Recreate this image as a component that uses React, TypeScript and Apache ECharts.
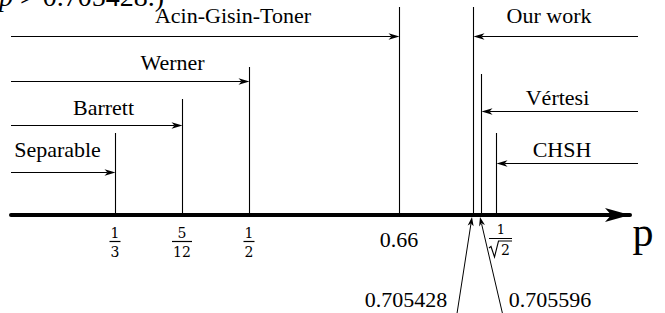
import React, { useEffect, useRef } from 'react';
import * as echarts from 'echarts';

// ---------- data ----------
const markLabels = ['1/3', '5/12', '1/2', '0.66', '0.705428', '0.705596', '1/√2'];
const markValues = [1 / 3, 5 / 12, 1 / 2, 0.66, 0.705428, 0.705596, 0.707107];
const boundNames = ['Separable', 'Barrett', 'Werner', 'Acin-Gisin-Toner', 'Our work', 'Vértesi', 'CHSH'];
const boundMarkIndex = [0, 1, 2, 3, 4, 5, 6];
const boundDirection = ['right', 'right', 'right', 'right', 'left', 'left', 'left'];
const tickLabelMarks = [0, 1, 2, 3, 6];
const pointerMarkIndex = [4, 5];
const axisName = 'p';
const headerFragment = 'p > 0.705428.)';

// ---------- schematic layout (axis is not to scale) ----------
const markAxisPos = [115, 182, 249, 399, 473, 481, 496];
const markTop = [82, 116, 148, 208, 208, 141, 82];
const boundRowY = [43.5, 90, 134, 179, 179, 104, 52];
const boundLabelX = [57.5, 103.5, 172.5, 233, 549, 557.5, 562];
const boundLabelGap = [22, 18, 19, 20.5, 20.5, 14, 14];
const LEFT_START = 11;
const RIGHT_START = 638;
const pointerBaseX = [456, 504];
const pointerBaseY = -105;
const pointerTipDx = [-1, -1];
const pointerLabelX = [406, 550];
const pointerLabelY = -84;

const SERIF = 'Liberation Serif';
const MATH = 'DejaVu Serif';
const INK = '#000';

function arrowHead(tip: number[], from: number[], len: number, half: number, notch: number) {
  const dx = tip[0] - from[0];
  const dy = tip[1] - from[1];
  const L = Math.hypot(dx, dy) || 1;
  const ux = dx / L, uy = dy / L;
  const px = -uy, py = ux;
  const bx = tip[0] - ux * len, by = tip[1] - uy * len;
  return {
    type: 'polygon',
    shape: {
      points: [
        [tip[0], tip[1]],
        [bx + px * half, by + py * half],
        [tip[0] - ux * (len - notch), tip[1] - uy * (len - notch)],
        [bx - px * half, by - py * half],
      ],
    },
    style: { fill: INK },
  };
}

function lineEl(a: number[], b: number[], w = 1) {
  return { type: 'line', shape: { x1: a[0], y1: a[1], x2: b[0], y2: b[1] }, style: { stroke: INK, lineWidth: w } };
}

function gText(x: number, y: number, text: string, size: number, family = SERIF) {
  return {
    type: 'text',
    x, y,
    silent: true,
    style: { text, fontSize: size, fontFamily: family, fill: INK, align: 'center', verticalAlign: 'middle' },
  };
}

export default function App() {
  const ref = useRef<HTMLDivElement>(null);
  useEffect(() => {
    if (!ref.current) return;
    const chart = echarts.init(ref.current, null, { renderer: 'svg' });

    const marksSeries = {
      type: 'custom',
      silent: true,
      clip: false,
      data: markAxisPos.map((x, i) => [x, markTop[i]]),
      renderItem: (params: any, api: any) => {
        const a = api.coord([api.value(0), 0]);
        const b = api.coord([api.value(0), api.value(1)]);
        return lineEl([Math.round(a[0]) + 0.5, a[1]], [Math.round(b[0]) + 0.5, b[1]], 1.1);
      },
    };

    const boundsSeries = {
      type: 'custom',
      silent: true,
      clip: false,
      data: boundNames.map((_, i) => [markAxisPos[boundMarkIndex[i]], boundRowY[i]]),
      renderItem: (params: any, api: any) => {
        const i = params.dataIndex;
        const row = boundRowY[i];
        const tipRaw = api.coord([markAxisPos[boundMarkIndex[i]], row]);
        const tip = [Math.round(tipRaw[0]) + 0.5, Math.round(tipRaw[1]) + 0.5];
        const sRaw = api.coord([boundDirection[i] === 'right' ? LEFT_START : RIGHT_START, row]);
        const start = [sRaw[0], tip[1]];
        const dir = boundDirection[i] === 'right' ? 1 : -1;
        return {
          type: 'group',
          children: [lineEl(start, [tip[0] - dir * 8, tip[1]], 1.1), arrowHead(tip, start, 11, 3.2, 3)],
        };
      },
    };

    const ticksSeries = {
      type: 'custom',
      silent: true,
      clip: false,
      data: tickLabelMarks.map((m) => [markAxisPos[m], 0]),
      renderItem: (params: any, api: any) => {
        const m = tickLabelMarks[params.dataIndex];
        const p = api.coord([api.value(0), 0]);
        const label = markLabels[m];
        if (label.indexOf('/') < 0) return { type: 'group', children: [] };
        const [num, den] = label.split('/');
        if (den.startsWith('√')) {
          const cx = p[0] + 5;
          const y0 = p[1];
          return {
            type: 'group',
            children: [
              lineEl([cx - 12, y0 + 23.5], [cx + 11, y0 + 23.5], 1),
              {
                type: 'polyline',
                shape: { points: [[cx - 12, y0 + 33], [cx - 10, y0 + 31.5], [cx - 6.5, y0 + 42], [cx - 2.5, y0 + 26], [cx + 11, y0 + 26]] },
                style: { stroke: INK, lineWidth: 1.1, fill: null },
              },
            ],
          };
        }
        const w = Math.max(num.length, den.length) * 9 + 2;
        return lineEl([p[0] - w / 2, p[1] + 26.5], [p[0] + w / 2, p[1] + 26.5], 1.2);
      },
    };

    const pointersSeries = {
      type: 'custom',
      silent: true,
      clip: false,
      data: pointerMarkIndex.map((m) => [markAxisPos[m], 0]),
      renderItem: (params: any, api: any) => {
        const j = params.dataIndex;
        const m = pointerMarkIndex[j];
        const t = api.coord([markAxisPos[m] + pointerTipDx[j], 0]);
        const tip = [t[0], t[1] + 2];
        const base = api.coord([pointerBaseX[j], pointerBaseY]);
        const dx = tip[0] - base[0], dy = tip[1] - base[1];
        const L = Math.hypot(dx, dy);
        const end = [tip[0] - (dx / L) * 7, tip[1] - (dy / L) * 7];
        return { type: 'group', children: [lineEl(base, end, 1), arrowHead(tip, base, 9, 3, 2.5)] };
      },
    };

    const option: any = {
      animation: false,
      grid: { left: 11, right: 35, top: 0, bottom: 98 },
      xAxis: {
        type: 'value',
        min: 11,
        max: 630,
        axisLine: {
          show: true,
          onZero: false,
          symbol: ['none', 'arrow'],
          symbolSize: [10.5, 25],
          lineStyle: { color: INK, width: 4 },
        },
        axisTick: { show: false },
        axisLabel: { show: false },
        splitLine: { show: false },
      },
      yAxis: { type: 'value', min: 0, max: 215, show: false },
      series: [marksSeries, boundsSeries, ticksSeries, pointersSeries],
    };
    chart.setOption(option);

    // ----- texts, positioned through the grid's own scales -----
    const px = (x: number, y: number) => chart.convertToPixel({ gridIndex: 0 }, [x, y]) as number[];
    const texts: any[] = [];
    boundNames.forEach((name, i) => {
      const p = px(boundLabelX[i], boundRowY[i]);
      texts.push(gText(p[0], p[1] - boundLabelGap[i], name, 22));
    });
    tickLabelMarks.forEach((m) => {
      const p = px(markAxisPos[m], 0);
      const label = markLabels[m];
      if (label.indexOf('/') < 0) {
        texts.push(gText(p[0], p[1] + 24, label, 22));
        return;
      }
      const [num, den] = label.split('/');
      if (den.startsWith('√')) {
        const cx = p[0] + 5;
        texts.push(gText(cx, p[1] + 14, num, 13, MATH));
        texts.push(gText(cx + 4.5, p[1] + 35, den.slice(1), 14, MATH));
      } else {
        texts.push(gText(p[0], p[1] + 18, num, 14, MATH));
        texts.push(gText(p[0], p[1] + 37, den, 14, MATH));
      }
    });
    pointerMarkIndex.forEach((m, j) => {
      const p = px(pointerLabelX[j], pointerLabelY);
      texts.push(gText(p[0], p[1], markLabels[m], 22));
    });
    const axisEnd = px(630, 0);
    texts.push(gText(axisEnd[0] + 13, axisEnd[1] + 17, axisName, 42));
    texts.push({
      type: 'text',
      x: -1,
      y: -4,
      silent: true,
      style: {
        text: '{i|p} > 0.705428.)',
        fontSize: 28,
        fontFamily: SERIF,
        fill: INK,
        align: 'left',
        verticalAlign: 'middle',
        rich: { i: { fontStyle: 'italic', fontSize: 28, fontFamily: SERIF } },
      },
    });
    chart.setOption({ graphic: texts });

    void markValues;
    void headerFragment;
    return () => chart.dispose();
  }, []);
  return <div ref={ref} style={{ position: 'absolute', left: 0, top: 0, width: 665, height: 313, background: '#fff' }} />;
}
